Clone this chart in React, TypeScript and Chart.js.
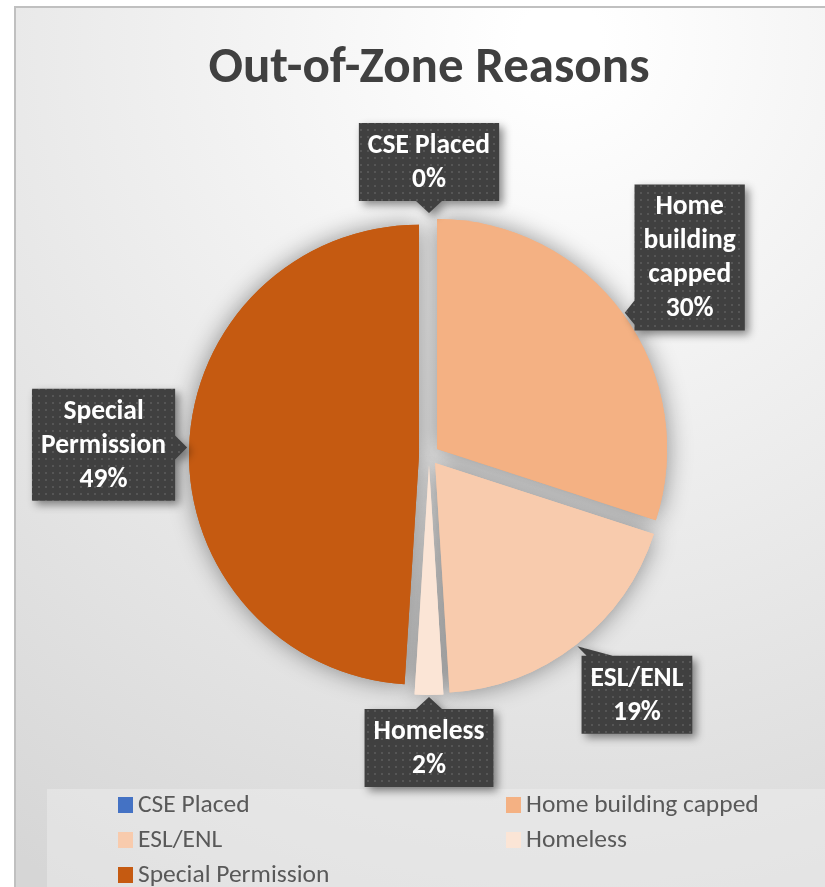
import React, { useEffect, useRef } from "react";
import { Chart, registerables } from "chart.js";

Chart.register(...registerables);

// ---- data ----
const chartTitle = "Out-of-Zone Reasons";
const categories = ["CSE Placed", "Home building capped", "ESL/ENL", "Homeless", "Special Permission"];
const shares = [0, 30, 19, 2, 49];
const sliceColors = ["#4472C4", "#F4B183", "#F8CBAD", "#FBE5D6", "#C55A11"];

// ---- layout / style ----
const W = 825;
const H = 887;
const FONT = "Carlito, Lato, 'Noto Sans', sans-serif";
const EXPLODE = 10;
const PIE_RADIUS = 230;
const TITLE_SIZE = 51;
const LABEL_SIZE = 27.5;
const LABEL_LINE = 34;
const LABEL_WRAP = 145;
const LABEL_PAD_X = 9;
const LABEL_PAD_Y = 5;
const LABEL_GAP = 12;
const LABEL_NUDGE = [[0, 0], [0, -8], [22, 0], [0, 0], [0, 0]];
const LEGEND_SIZE = 25.5;
const LEGEND_COLS = [118, 506];
const LEGEND_ROW0 = 805;
const LEGEND_ROW_H = 35;

function clamp(v: number, a: number, b: number) {
  return Math.max(a, Math.min(b, v));
}

function wrapText(ctx: CanvasRenderingContext2D, text: string, max: number) {
  const words = text.split(" ");
  const lines: string[] = [];
  let cur = "";
  for (const w of words) {
    const t = cur ? cur + " " + w : w;
    if (cur && ctx.measureText(t).width > max) {
      lines.push(cur);
      cur = w;
    } else cur = t;
  }
  if (cur) lines.push(cur);
  return lines;
}

function makePattern(ctx: CanvasRenderingContext2D) {
  const c = document.createElement("canvas");
  c.width = 7;
  c.height = 7;
  const p = c.getContext("2d")!;
  p.fillStyle = "#404040";
  p.fillRect(0, 0, 7, 7);
  p.fillStyle = "#565656";
  p.fillRect(3, 3, 2, 2);
  return ctx.createPattern(c, "repeat");
}

function calloutPath(ctx: CanvasRenderingContext2D, x: number, y: number, w: number, h: number, tx: number, ty: number) {
  const cx = x + w / 2;
  const cy = y + h / 2;
  const dx = tx - cx;
  const dy = ty - cy;
  ctx.beginPath();
  ctx.rect(x, y, w, h);
  let b1: number[];
  let b2: number[];
  if (Math.abs(dx) / (w / 2) > Math.abs(dy) / (h / 2)) {
    const sx = dx > 0 ? x + w : x;
    const c = clamp(ty, y + 18, y + h - 18);
    b1 = [sx, c - 12];
    b2 = [sx, c + 12];
  } else {
    const sy = dy > 0 ? y + h : y;
    const c = clamp(tx, x + 18, x + w - 18);
    b1 = [c - 13, sy];
    b2 = [c + 13, sy];
  }
  ctx.moveTo(b1[0], b1[1]);
  ctx.lineTo(tx, ty);
  ctx.lineTo(b2[0], b2[1]);
  ctx.closePath();
}

const decorPlugin = {
  id: "decor",
  beforeDraw(chart: any) {
    const ctx: CanvasRenderingContext2D = chart.ctx;
    const ca = chart.chartArea;
    const cx = (ca.left + ca.right) / 2;
    ctx.save();
    ctx.fillStyle = "#ffffff";
    ctx.fillRect(0, 0, W, H);
    const g = ctx.createRadialGradient(560, 40, 40, 560, 40, 980);
    g.addColorStop(0, "#ffffff");
    g.addColorStop(1, "#d6d6d6");
    ctx.fillStyle = g;
    ctx.fillRect(15, 7, W, H);
    ctx.strokeStyle = "#c0c0c0";
    ctx.lineWidth = 2;
    ctx.beginPath();
    ctx.moveTo(15, H);
    ctx.lineTo(15, 7);
    ctx.lineTo(W, 7);
    ctx.stroke();
    // legend area
    ctx.fillStyle = "rgba(240,240,240,0.45)";
    ctx.fillRect(47, 789, W - 47, H - 789);
    // title
    ctx.fillStyle = "#404040";
    ctx.font = `bold ${TITLE_SIZE}px ${FONT}`;
    ctx.textAlign = "center";
    ctx.textBaseline = "middle";
    ctx.fillText(chartTitle, cx, 69);
    // legend
    ctx.font = `${LEGEND_SIZE}px ${FONT}`;
    ctx.textAlign = "left";
    const labels = chart.data.labels as string[];
    const bg = chart.data.datasets[0].backgroundColor as string[];
    labels.forEach((lab, i) => {
      const col = i % 2;
      const row = Math.floor(i / 2);
      const x = LEGEND_COLS[col];
      const y = LEGEND_ROW0 + row * LEGEND_ROW_H;
      ctx.fillStyle = bg[i];
      ctx.fillRect(x, y - 8, 15, 16);
      ctx.fillStyle = "#595959";
      ctx.fillText(lab, x + 20, y + 1);
    });
    ctx.restore();
  },
  beforeDatasetDraw(chart: any, args: any) {
    const ctx: CanvasRenderingContext2D = chart.ctx;
    const els = args.meta.data;
    const pass = (shadow: boolean) => {
      els.forEach((el: any) => {
        const { startAngle, endAngle } = el.getProps(["startAngle", "endAngle"], true);
        if (endAngle - startAngle <= 0) return;
        const mid = (startAngle + endAngle) / 2;
        ctx.save();
        ctx.translate(Math.cos(mid) * EXPLODE, Math.sin(mid) * EXPLODE);
        if (shadow) {
          ctx.shadowColor = "rgba(0,0,0,0.42)";
          ctx.shadowBlur = 24;
        }
        el.draw(ctx);
        ctx.restore();
      });
    };
    pass(true);
    pass(false);
    return false;
  },
  afterDatasetsDraw(chart: any) {
    const ctx: CanvasRenderingContext2D = chart.ctx;
    const meta = chart.getDatasetMeta(0);
    const values = chart.data.datasets[0].data as number[];
    const total = values.reduce((a, b) => a + b, 0);
    const pattern = makePattern(ctx);
    ctx.save();
    ctx.font = `bold ${LABEL_SIZE}px ${FONT}`;
    meta.data.forEach((el: any, i: number) => {
      const { x, y, startAngle, endAngle, outerRadius } = el.getProps(
        ["x", "y", "startAngle", "endAngle", "outerRadius"],
        true
      );
      const mid = (startAngle + endAngle) / 2;
      const ux = Math.cos(mid);
      const uy = Math.sin(mid);
      const rTip = outerRadius + EXPLODE + 2;
      const tx = x + ux * rTip;
      const ty = y + uy * rTip;
      ctx.font = `bold ${LABEL_SIZE}px ${FONT}`;
      const lines = wrapText(ctx, chart.data.labels[i], LABEL_WRAP);
      lines.push(`${Math.round((values[i] / total) * 100)}%`);
      const tw = Math.max(...lines.map((l) => ctx.measureText(l).width));
      const bw = tw + LABEL_PAD_X * 2;
      const bh = lines.length * LABEL_LINE + LABEL_PAD_Y * 2;
      const t = Math.min(
        Math.abs(ux) > 1e-6 ? bw / 2 / Math.abs(ux) : Infinity,
        Math.abs(uy) > 1e-6 ? bh / 2 / Math.abs(uy) : Infinity
      );
      const bcx = tx + ux * (t + LABEL_GAP) + LABEL_NUDGE[i][0];
      const bcy = ty + uy * (t + LABEL_GAP) + LABEL_NUDGE[i][1];
      const bx = bcx - bw / 2;
      const by = bcy - bh / 2;
      ctx.save();
      ctx.shadowColor = "rgba(0,0,0,0.45)";
      ctx.shadowBlur = 8;
      ctx.shadowOffsetX = 4;
      ctx.shadowOffsetY = 4;
      calloutPath(ctx, bx, by, bw, bh, tx, ty);
      ctx.fillStyle = pattern || "#404040";
      ctx.fill();
      ctx.restore();
      ctx.fillStyle = "#ffffff";
      ctx.textAlign = "center";
      ctx.textBaseline = "middle";
      lines.forEach((l, k) => {
        ctx.fillText(l, bcx, by + LABEL_PAD_Y + LABEL_LINE * (k + 0.5) + 1);
      });
    });
    ctx.restore();
  },
};

export default function App() {
  const ref = useRef<HTMLCanvasElement | null>(null);
  useEffect(() => {
    if (!ref.current) return;
    const chart = new Chart(ref.current, {
      type: "pie",
      data: {
        labels: categories,
        datasets: [
          {
            data: shares,
            backgroundColor: sliceColors,
            borderWidth: 0,
            radius: PIE_RADIUS,
          } as any,
        ],
      },
      options: {
        responsive: false,
        animation: false,
        devicePixelRatio: 1,
        events: [],
        layout: { padding: { left: 33, right: 0, top: 100, bottom: 77 } },
        plugins: {
          legend: { display: false },
          title: { display: false },
          tooltip: { enabled: false },
        },
      },
      plugins: [decorPlugin],
    });
    return () => chart.destroy();
  }, []);
  return (
    <div style={{ position: "absolute", left: 0, top: 0, width: W, height: H }}>
      <canvas ref={ref} width={W} height={H} style={{ display: "block" }} />
    </div>
  );
}
